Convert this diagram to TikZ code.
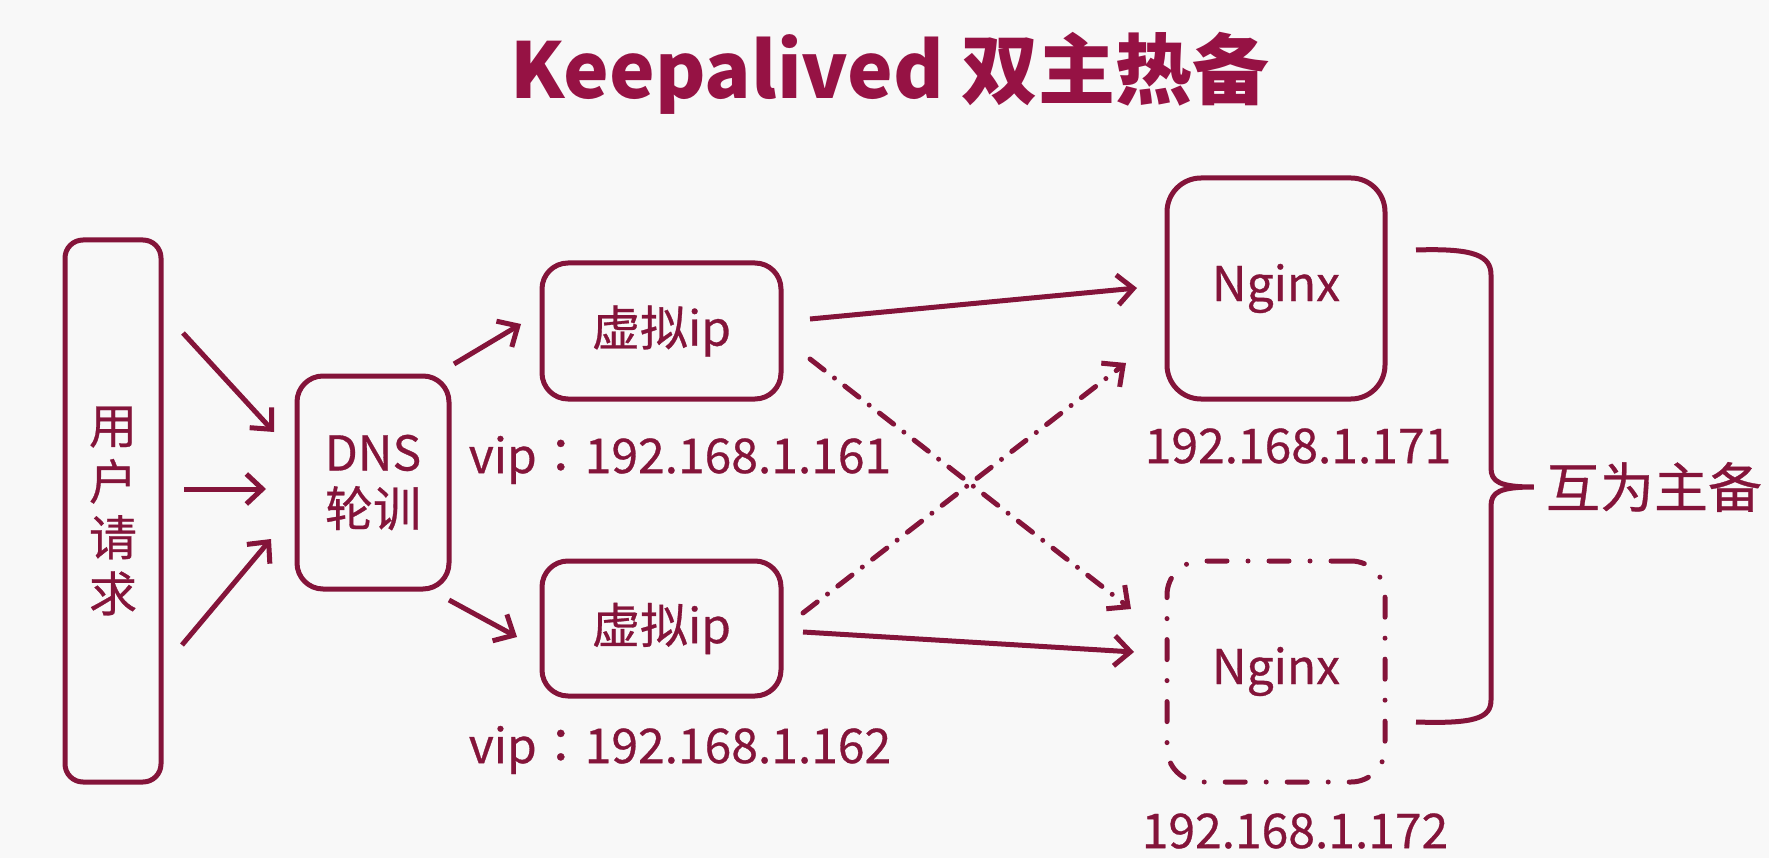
\documentclass[tikz,border=0pt]{standalone}
\usepackage{fontspec}
\setmainfont{Noto Sans CJK SC}
\newfontfamily\bodyfont{Noto Sans CJK SC}[FakeBold=0.6]
\newfontfamily\tcbody{Noto Sans CJK TC}[FakeBold=0.6]
\usetikzlibrary{arrows.meta}
\definecolor{crim}{RGB}{132,20,58}
\definecolor{ttlc}{RGB}{150,18,68}
\definecolor{bgc}{RGB}{248,248,248}
\newcommand\fsBody{\bodyfont\fontsize{48}{56}\selectfont}
\newcommand\fsLab{\bodyfont\fontsize{48}{56}\selectfont}
\newcommand\fsMut{\bodyfont\fontsize{54}{60}\selectfont}
\newcommand\fsTitle{\fontsize{77}{90}\selectfont\bfseries}
\newcommand\ccolon{{\tcbody ：}}
\begin{document}
\begin{tikzpicture}[x=1pt,y=-1pt,
  box/.style={draw=crim, line width=5pt, inner sep=0pt, text=crim, font=\fsBody, align=center},
  arr/.style={draw=crim, line width=5pt, -{Straight Barb[length=16pt,width=30pt]}},
  ddline/.style={dash pattern=on 18pt off 13pt on 0pt off 13pt, line cap=round},
  ddbox/.style={dash pattern=on 20pt off 21pt on 0pt off 21pt, line cap=round},
  lab/.style={text=crim, font=\fsLab, inner sep=0pt}]
\fill[bgc] (0,0) rectangle (1769,858);
\useasboundingbox (0,0) rectangle (1769,858);

\node[text=ttlc, font=\fsTitle, inner sep=0pt] (title) at (890,73) {Keepalived 双主热备};

\node[box, rounded corners=18pt, minimum width=96pt, minimum height=542pt] (user) at (113,511) {用\\户\\请\\求};
\node[box, rounded corners=26pt, minimum width=152pt, minimum height=213pt] (dns) at (373,482.5) {DNS\\轮训};
\node[box, rounded corners=26pt, minimum width=239pt, minimum height=136pt] (vip1) at (661.5,331) {虚拟ip};
\node[box, rounded corners=26pt, minimum width=239pt, minimum height=135pt] (vip2) at (661.5,628.5) {虚拟ip};
\node[box, rounded corners=34pt, minimum width=218pt, minimum height=221pt] (ng1) at (1276,288.5) {Nginx};
\node[box, ddbox, rounded corners=34pt, minimum width=218pt, minimum height=221pt] (ng2) at (1276,671.5) {Nginx};

\node[lab] (l1) at (680,460) {vip\ccolon 192.168.1.161};
\node[lab] (l2) at (680,750) {vip\ccolon 192.168.1.162};
\node[lab] (l3) at (1298,446) {192.168.1.171};
\node[lab] (l4) at (1295,831) {192.168.1.172};
\node[lab, font=\fsMut] (mut) at (1654,487) {互为主备};

% arrow end points
\coordinate (u1s) at (183,333); \coordinate (u1e) at (274,432);
\coordinate (u2s) at (184,489); \coordinate (u2e) at (266,489);
\coordinate (u3s) at (182,645); \coordinate (u3e) at (271,539);
\coordinate (d1s) at (454,364); \coordinate (d1e) at (521,324);
\coordinate (d2s) at (449,600); \coordinate (d2e) at (517,637);
\coordinate (v1as) at (810,319); \coordinate (v1ae) at (1137,288);
\coordinate (v1bs) at (810,359); \coordinate (v1be) at (1131,609);
\coordinate (v2as) at (803,613); \coordinate (v2ae) at (1126,363);
\coordinate (v2bs) at (803,632); \coordinate (v2be) at (1134,652);

\draw[arr] (u1s) -- (u1e);
\draw[arr] (u2s) -- (u2e);
\draw[arr] (u3s) -- (u3e);
\draw[arr] (d1s) -- (d1e);
\draw[arr] (d2s) -- (d2e);
\draw[arr] (v1as) -- (v1ae);
\draw[arr, ddline] (v1bs) -- (v1be);
\draw[arr, ddline] (v2as) -- (v2ae);
\draw[arr] (v2bs) -- (v2be);

% brace
\draw[crim, line width=5pt] (1416,250) .. controls (1475,248) and (1491,256) .. (1491,275)
  -- (1491,468) .. controls (1491,482) and (1500,487) .. ([xshift=-12pt]mut.west)
  .. controls (1500,487) and (1491,492) .. (1491,506)
  -- (1491,700) .. controls (1491,718) and (1475,724) .. (1416,722);
\end{tikzpicture}
\end{document}
